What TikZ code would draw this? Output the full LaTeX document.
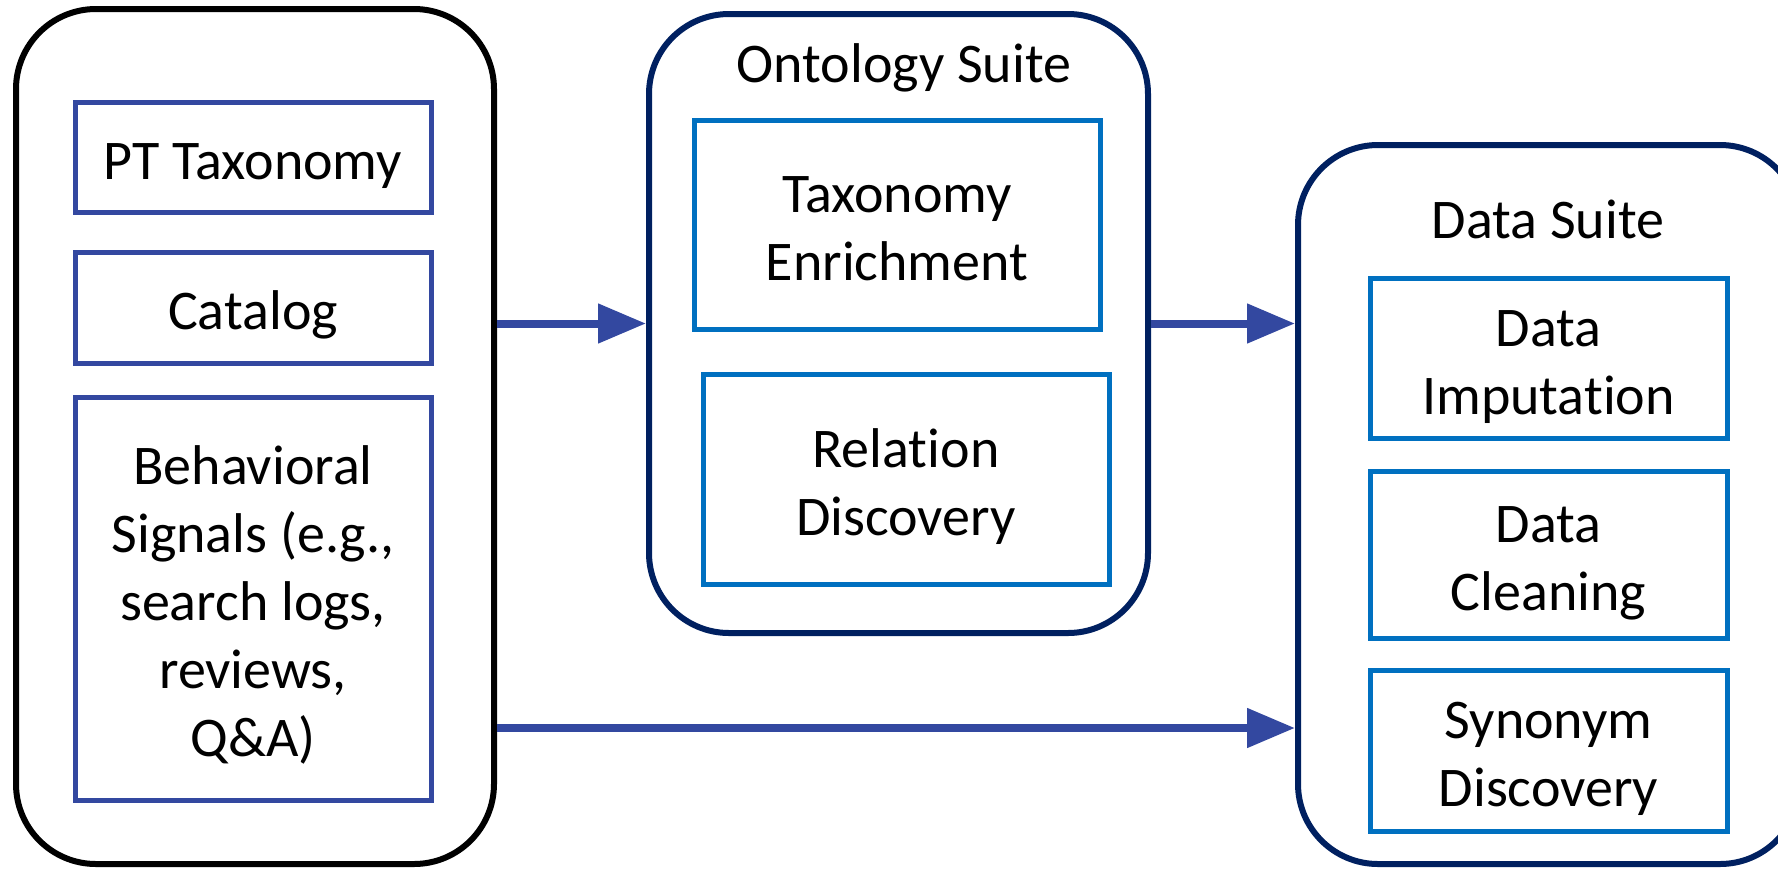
\documentclass[tikz,border=0pt]{standalone}
\usepackage{fontspec}
\setmainfont{Carlito}[Ligatures=NoCommon]
\usepackage{tikz}
\usetikzlibrary{arrows.meta}

\definecolor{srcblue}{RGB}{51,72,160}
\definecolor{suitenavy}{RGB}{0,32,96}
\definecolor{toolblue}{RGB}{0,112,192}

\newcommand\calstrut{\vrule width 0pt height 1.06em depth 0.269em}
\newcommand\caldepth{\vrule width 0pt height 0pt depth 0.269em}

\begin{document}
\begin{tikzpicture}[
        x=0.5pt, y=-0.5pt,
        every node/.style={
            font=\fontsize{28}{34}\selectfont,
            align=center,
            inner sep=0pt
        },
        group/.style={
            draw,
            line width=3pt,
            rounded corners=40pt
        },
        srcitem/.style={
            draw=srcblue,
            line width=2.5pt,
            minimum width=178pt
        },
        tool/.style={
            draw=toolblue,
            line width=2.5pt
        },
        arrow/.style={
            -{Triangle[length=24pt,width=19pt]},
            line width=4pt,
            srcblue
        }
    ]

    \useasboundingbox (0,0) rectangle (1778,869);
    \clip (0,0) rectangle (1778,869);

    \node[group, draw=black, minimum width=239pt, minimum height=427.5pt] (srcbox) at (255,436.5) {};

    \node[srcitem, minimum height=55pt] (pt) at (253,157) {\calstrut PT Taxonomy};

    \node[srcitem, minimum height=55.5pt] (catalog) at (253,307.5) {\calstrut Catalog};

    \node[srcitem, minimum height=201.5pt] (behav) at (253,598.5) {\calstrut Behavioral\\Signals (e.g.,\\search logs,\\reviews,\\Q\&A)\caldepth};

    \node[group, draw=suitenavy, minimum width=249.5pt, minimum height=309.5pt] (onto) at (898.5,323.5) {};
    \node (ontotitle) at (904,60) {\calstrut Ontology Suite};

    \node[tool, minimum width=203pt, minimum height=104.5pt] (taxenr) at (897,224.5) {\calstrut Taxonomy\\Enrichment\caldepth};

    \node[tool, minimum width=203pt, minimum height=105pt] (reldisc) at (906,479) {\calstrut Relation\\Discovery\caldepth};

    \node[group, draw=suitenavy, minimum width=251pt, minimum height=359.5pt] (data) at (1549,504.5) {};
    \node (datatitle) at (1548,216) {\calstrut Data Suite};

    \node[tool, minimum width=178.5pt, minimum height=80pt] (imput) at (1548.5,358) {\calstrut Data\\Imputation\caldepth};

    \node[tool, minimum width=178.5pt, minimum height=83.5pt] (clean) at (1548.5,554.5) {\calstrut Data\\Cleaning\caldepth};

    \node[tool, minimum width=178.5pt, minimum height=80.5pt] (syn) at (1548.5,750.5) {\calstrut Synonym\\Discovery\caldepth};

    \coordinate (lowin) at (1298,728);

    \draw[arrow] (srcbox.east |- onto.west) -- (onto.west);
    \draw[arrow] (onto.east) -- (data.west |- onto.east);
    \draw[arrow] (srcbox.east |- lowin) -- (data.west |- lowin);

\end{tikzpicture}
\end{document}
